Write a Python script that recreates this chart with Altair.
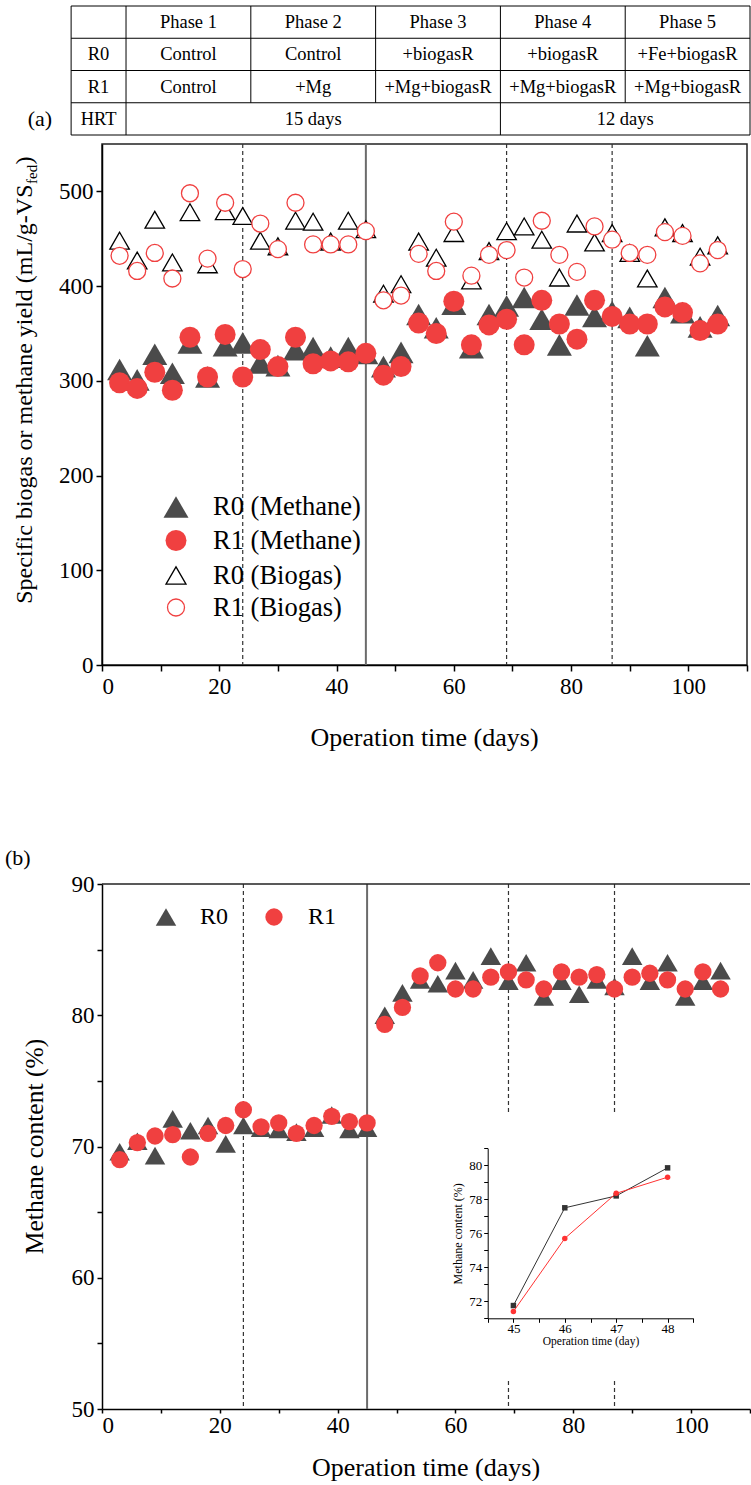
import altair as alt
import pandas as pd

# ---------------- data ----------------
days = [3, 6, 9, 12, 15, 18, 21, 24, 27, 30, 33, 36, 39, 42, 45, 48, 51, 54,
        57, 60, 63, 66, 69, 72, 75, 78, 81, 84, 87, 90, 93, 96, 99, 102, 105]

r0_methane = [312, 301, 328, 308, 340, 304, 337, 340, 319, 316, 333, 335, 325, 335, 329, 315, 330, 370,
              356, 381, 335, 370, 379, 388, 365, 338, 380, 368, 373, 367, 337, 388, 372, 357, 369]
r1_methane = [298, 292, 309, 290, 346, 304, 349, 304, 333, 315, 346, 318, 321, 320, 329, 306, 315, 361,
              350, 384, 338, 359, 365, 338, 385, 360, 344, 385, 368, 360, 360, 378, 372, 353, 360]
r0_biogas = [448, 427, 470, 425, 478, 423, 479, 474, 448, 442, 469, 468, 447, 469, 460, 392, 402, 447,
             430, 456, 406, 437, 458, 463, 449, 409, 466, 446, 456, 435, 408, 462, 456, 431, 443]
r1_biogas = [432, 416, 435, 408, 498, 429, 488, 418, 466, 439, 488, 444, 444, 444, 458, 385, 390, 434,
             416, 468, 411, 433, 438, 409, 469, 433, 415, 463, 449, 435, 433, 457, 453, 424, 438]

r0_content = [69.6, 70.4, 69.3, 72.1, 71.2, 71.6, 70.2, 71.6, 71.4, 71.3, 71.1, 71.4, 72.4, 71.3, 71.4,
              80.0, 81.7, 82.7, 82.4, 83.4, 82.7, 84.5, 82.6, 84.0, 81.4, 82.6, 81.6, 82.7, 82.2, 84.5,
              82.6, 84.0, 81.4, 82.6, 83.4]
r1_content = [69.0, 70.3, 70.8, 70.9, 69.2, 71.0, 71.6, 72.8, 71.5, 71.8, 71.0, 71.6, 72.3, 71.9, 71.8,
              79.3, 80.6, 83.0, 84.0, 82.0, 82.0, 82.9, 83.3, 82.7, 82.0, 83.3, 82.9, 83.1, 82.0, 82.9,
              83.2, 82.7, 82.0, 83.3, 82.0]

inset_days = [45, 46, 47, 48]
inset_r0 = [71.75, 77.5, 78.2, 79.85]
inset_r1 = [71.4, 75.7, 78.35, 79.3]

phase_dashed = [24, 69, 87]
phase_solid = [45]

phases = ["Phase 1", "Phase 2", "Phase 3", "Phase 4", "Phase 5"]
r0_treatment = ["Control", "Control", "+biogasR", "+biogasR", "+Fe+biogasR"]
r1_treatment = ["Control", "+Mg", "+Mg+biogasR", "+Mg+biogasR", "+Mg+biogasR"]
row_names = ["R0", "R1", "HRT"]
hrt_labels = ["15 days", "12 days"]
hrt_spans = [(0, 3), (3, 5)]

time_ticks = [0, 10, 20, 30, 40, 50, 60, 70, 80, 90, 100, 110]
a_yticks = [0, 100, 200, 300, 400, 500]
b_yticks = [50, 55, 60, 65, 70, 75, 80, 85, 90]
inset_xticks = [44.5, 45, 45.5, 46, 46.5, 47, 47.5, 48, 48.5]
inset_yticks = [71, 72, 73, 74, 75, 76, 77, 78, 79, 80, 81]

# ---------------- style ----------------
FONT = "Liberation Serif"
DARK = "#4b4b4b"
RED = "#f04040"
DASH_COL = "#333333"
SOLID_COL = "#6b6b6b"


def label(text, x, y, size, align="center", angle=0, baseline="middle", color="black"):
    return alt.Chart(pd.DataFrame({"t": [text]})).mark_text(
        font=FONT, fontSize=size, align=align, baseline=baseline, angle=angle, color=color
    ).encode(x=alt.value(x), y=alt.value(y), text="t:N")


def symbol(x, y, **kw):
    return alt.Chart(pd.DataFrame({"k": [0]})).mark_point(opacity=1, **kw).encode(
        x=alt.value(x), y=alt.value(y))


# ---------------- table ----------------
TW, TH = 648, 129
tx = alt.Scale(domain=[-0.1925, 5], nice=False, zero=False)
ty = alt.Scale(domain=[0, 4], reverse=True, nice=False, zero=False)

n_rows = len(row_names) + 1
hl = pd.DataFrame({"x": [-0.44] * (n_rows + 1), "x2": [len(phases)] * (n_rows + 1),
                   "y": list(range(n_rows + 1))})
v_x = [-0.44] + list(range(len(phases) + 1))
hrt_breaks = {a for a, b in hrt_spans} | {b for a, b in hrt_spans}
v_y2 = [n_rows, n_rows] + [n_rows if c in hrt_breaks else n_rows - 1 for c in range(1, len(phases) + 1)]
vl = pd.DataFrame({"x": v_x, "y": [0] * len(v_x), "y2": v_y2})

cells = []
for i, p in enumerate(phases):
    cells.append((i + 0.5, 0.5, p))
for r, nm in enumerate(row_names):
    cells.append((-0.22, r + 1.5, nm))
for i, t in enumerate(r0_treatment):
    cells.append((i + 0.5, 1.5, t))
for i, t in enumerate(r1_treatment):
    cells.append((i + 0.5, 2.5, t))
for (a, b), t in zip(hrt_spans, hrt_labels):
    cells.append(((a + b) / 2, 3.5, t))
cells_df = pd.DataFrame(cells, columns=["x", "y", "t"])

t_h = alt.Chart(hl).mark_rule(color="black", strokeWidth=1).encode(
    x=alt.X("x:Q", scale=tx, axis=None), x2="x2:Q", y=alt.Y("y:Q", scale=ty, axis=None))
t_v = alt.Chart(vl).mark_rule(color="black", strokeWidth=1).encode(
    x=alt.X("x:Q", scale=tx, axis=None), y=alt.Y("y:Q", scale=ty, axis=None), y2="y2:Q")
t_txt = alt.Chart(cells_df).mark_text(font=FONT, fontSize=18.5, color="black").encode(
    x=alt.X("x:Q", scale=tx, axis=None), y=alt.Y("y:Q", scale=ty, axis=None), text="t:N")
t_a = alt.Chart(pd.DataFrame({"x": [-0.69], "y": [3.5], "t": ["(a)"]})).mark_text(
    font=FONT, fontSize=22, color="black").encode(
    x=alt.X("x:Q", scale=tx, axis=None), y=alt.Y("y:Q", scale=ty, axis=None), text="t:N")

table = alt.layer(t_h, t_v, t_txt, t_a).properties(width=TW, height=TH)

# ---------------- panel (a) ----------------
WA, HA = 645, 521
xa = alt.X("day:Q", scale=alt.Scale(domain=[0, 110], nice=False, zero=False),
           axis=alt.Axis(values=time_ticks, labelExpr="datum.value % 20 == 0 ? datum.label : ''",
                         title=None, labelPadding=4))
ya = alt.Y("value:Q", scale=alt.Scale(domain=[0, 550], nice=False),
           axis=alt.Axis(values=a_yticks, title=None, labelPadding=3))


def series(vals):
    return alt.Chart(pd.DataFrame({"day": days, "value": vals}))


a_dash = alt.Chart(pd.DataFrame({"day": phase_dashed})).mark_rule(
    color=DASH_COL, strokeWidth=1.2, strokeDash=[4, 3]).encode(x=alt.X("day:Q"))
a_solid = alt.Chart(pd.DataFrame({"day": phase_solid})).mark_rule(
    color=SOLID_COL, strokeWidth=2).encode(x=alt.X("day:Q"))

a_r0m = series(r0_methane).mark_point(shape="triangle-up", filled=True, size=625, color=DARK,
                                      opacity=1).encode(x=xa, y=ya)
a_r1m = series(r1_methane).mark_point(shape="circle", filled=True, size=441, color=RED,
                                      opacity=1).encode(x="day:Q", y="value:Q")
a_r0b = series(r0_biogas).mark_point(shape="triangle-up", filled=True, fill="white", stroke="black",
                                     strokeWidth=1.3, size=380, opacity=1).encode(x="day:Q", y="value:Q")
a_r1b = series(r1_biogas).mark_point(shape="circle", filled=True, fill="white", stroke=RED,
                                     strokeWidth=1.3, size=289, opacity=1).encode(x="day:Q", y="value:Q")

leg_y = [363, 396.5, 431.5, 463.5]
a_leg = [
    symbol(74, leg_y[0], shape="triangle-up", filled=True, size=625, color=DARK),
    symbol(74, leg_y[1], shape="circle", filled=True, size=441, color=RED),
    symbol(74, leg_y[2], shape="triangle-up", filled=True, fill="white", stroke="black",
           strokeWidth=1.3, size=400),
    symbol(74, leg_y[3], shape="circle", filled=True, fill="white", stroke=RED,
           strokeWidth=1.3, size=289),
    label("R0 (Methane)", 111, leg_y[0], 26.5, align="left"),
    label("R1 (Methane)", 111, leg_y[1], 26.5, align="left"),
    label("R0 (Biogas)", 111, leg_y[2], 26.5, align="left"),
    label("R1 (Biogas)", 111, leg_y[3], 26.5, align="left"),
]

a_titles = [
    label("Specific biogas or methane yield (mL/g-VS", -77, 40.5, 24, align="right", angle=270),
    label("fed", -70, 40, 15, align="left", angle=270),
    label(")", -77, 20.5, 24, align="left", angle=270),
    label("Operation time (days)", WA / 2, HA + 73, 26),
]

panel_a = alt.layer(a_dash, a_solid, a_r0m, a_r1m, a_r0b, a_r1b, *a_leg, *a_titles).properties(
    width=WA, height=HA, view=alt.ViewBackground(stroke="#222222", strokeWidth=1.5))

# ---------------- panel (b) ----------------
WB, HB = 648, 525
xb = alt.X("day:Q", scale=alt.Scale(domain=[0, 110], nice=False, zero=False),
           axis=alt.Axis(values=time_ticks, labelExpr="datum.value % 20 == 0 ? datum.label : ''",
                         title=None, labelPadding=1, tickSize=4))
yb = alt.Y("value:Q", scale=alt.Scale(domain=[50, 90], nice=False, zero=False),
           axis=alt.Axis(values=b_yticks, labelExpr="datum.value % 10 == 0 ? datum.label : ''",
                         title=None, labelPadding=3, tickSize=5))

b_dash = alt.Chart(pd.DataFrame({"day": phase_dashed})).mark_rule(
    color=DASH_COL, strokeWidth=1.2, strokeDash=[4, 3]).encode(x=alt.X("day:Q"))
b_solid = alt.Chart(pd.DataFrame({"day": phase_solid})).mark_rule(
    color=SOLID_COL, strokeWidth=2).encode(x=alt.X("day:Q"))
b_r0 = series(r0_content).mark_point(shape="triangle-up", filled=True, size=420, color=DARK,
                                     opacity=1).encode(x=xb, y=yb)
b_r1 = series(r1_content).mark_point(shape="circle", filled=True, size=300, color=RED,
                                     opacity=1).encode(x="day:Q", y="value:Q")

one = pd.DataFrame({"k": [0]})
inset_bg = alt.Chart(one).mark_rect(color="white").encode(
    x=alt.value(338), x2=alt.value(600), y=alt.value(229), y2=alt.value(496))
top_border = alt.Chart(one).mark_rule(color="#222222", strokeWidth=1.5).encode(
    x=alt.value(0), x2=alt.value(WB), y=alt.value(0))
spacer = alt.Chart(one).mark_rule(color="white", strokeWidth=1).encode(
    x=alt.value(0), x2=alt.value(2), y=alt.value(-125))

b_leg = [
    symbol(64, 33, shape="triangle-up", filled=True, size=420, color=DARK),
    label("R0", 98, 33, 24, align="left"),
    symbol(172, 33, shape="circle", filled=True, size=300, color=RED),
    label("R1", 206, 33, 24, align="left"),
]
b_titles = [
    label("Methane content (%)", -67, HB / 2, 25.5, angle=270),
    label("Operation time (days)", WB / 2, HB + 59, 26),
    label("(b)", -97, -26, 22, align="left"),
]

main_b = alt.layer(b_dash, b_solid, inset_bg, b_r0, b_r1, top_border, spacer, *b_leg, *b_titles)

# inset
ix = alt.X("day:Q", scale=alt.Scale(domain=[44.5, 48.5], range=[385.7, 591.3], nice=False, zero=False),
           axis=alt.Axis(orient="bottom", offset=-90.7, values=inset_xticks,
                         labelExpr="datum.value % 1 == 0 ? format(datum.value, 'd') : ''",
                         title="Operation time (day)", titleFontSize=11.5, titleFont=FONT,
                         titleFontWeight="normal", titlePadding=0, labelFontSize=13,
                         tickSize=4, tickWidth=1, domainWidth=1, labelPadding=0, zindex=1))
iy = alt.Y("value:Q", scale=alt.Scale(domain=[71, 81], range=[434.3, 264.3], nice=False, zero=False),
           axis=alt.Axis(orient="left", offset=-385.7, values=inset_yticks,
                         labelExpr="datum.value % 2 == 0 ? datum.label : ''",
                         title="Methane content (%)", titleFontSize=12, titleFont=FONT,
                         titleFontWeight="normal", titlePadding=4, labelFontSize=13,
                         tickSize=4, tickWidth=1, domainWidth=1, labelPadding=2, zindex=1))

ins0 = alt.Chart(pd.DataFrame({"day": inset_days, "value": inset_r0}))
ins1 = alt.Chart(pd.DataFrame({"day": inset_days, "value": inset_r1}))
inset = alt.layer(
    ins0.mark_line(color="#333333", strokeWidth=1).encode(x=ix, y=iy),
    ins0.mark_point(shape="square", filled=True, size=30, color="#333333", opacity=1).encode(
        x="day:Q", y="value:Q"),
    ins1.mark_line(color="#ff3333", strokeWidth=1).encode(x="day:Q", y="value:Q"),
    ins1.mark_point(shape="circle", filled=True, size=30, color="#ff3333", opacity=1).encode(
        x="day:Q", y="value:Q"),
)

panel_b = alt.layer(main_b, inset).resolve_scale(x="independent", y="independent").properties(
    width=WB, height=HB)

chart = alt.vconcat(table, panel_a, panel_b, spacing=6).configure_view(stroke=None).configure_axis(
    labelFont=FONT, labelFontSize=23, labelColor="black", domainColor="black", tickColor="black",
    domainWidth=1.5, tickWidth=1.5, tickSize=6, grid=False, titleColor="black"
).properties(padding={"left": 5, "top": 5, "right": 0, "bottom": 0}, background="white")

chart.save("out.html", embed_options={"renderer": "svg", "actions": False})
